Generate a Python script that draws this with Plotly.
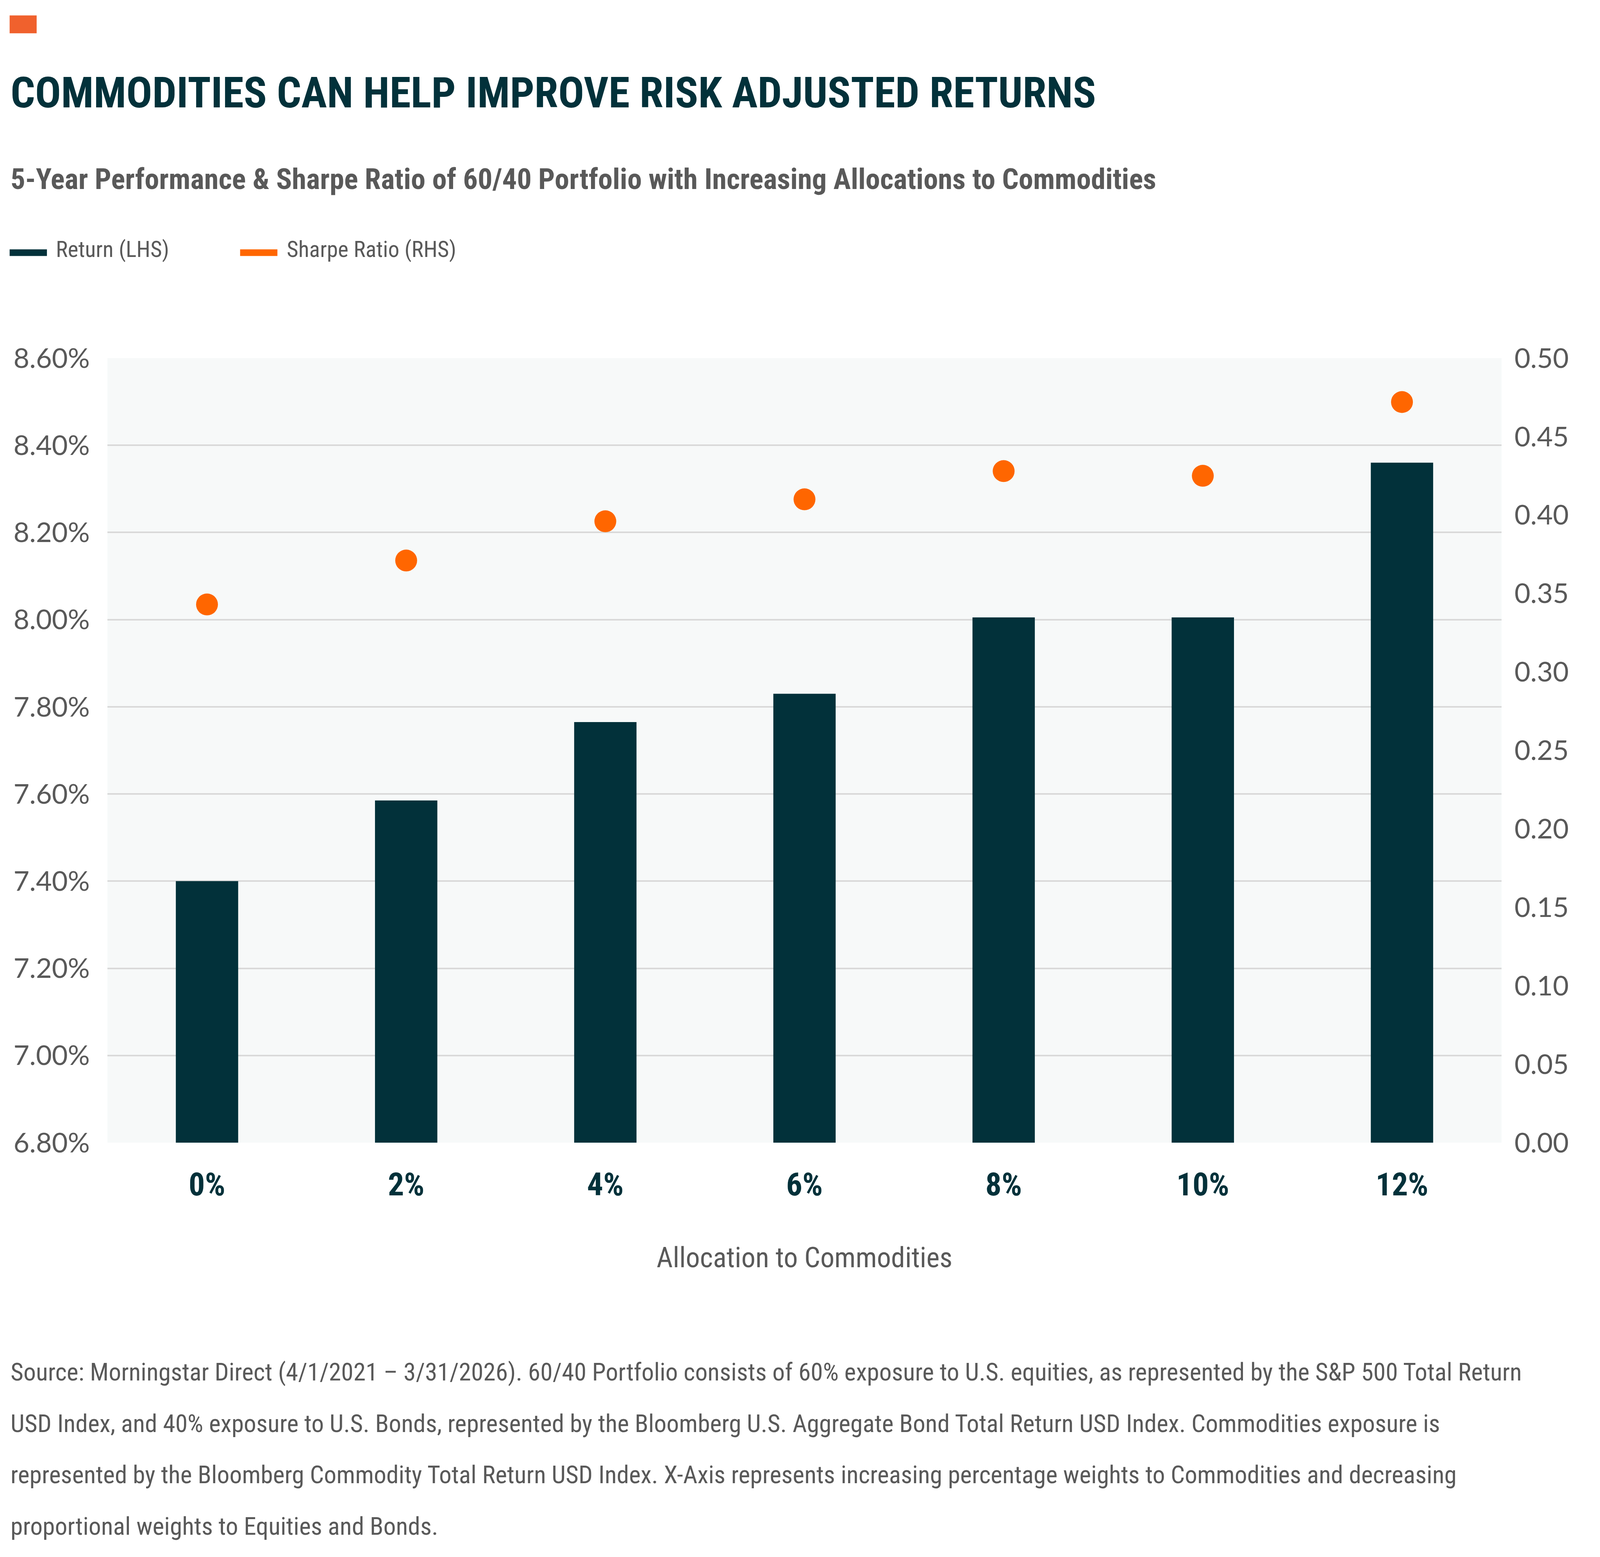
import plotly.graph_objects as go

# --------------------------------------------------------------------------
# Data
# --------------------------------------------------------------------------
allocations = ["0%", "2%", "4%", "6%", "8%", "10%", "12%"]
return_pct = [7.40, 7.585, 7.765, 7.83, 8.005, 8.005, 8.36]
sharpe_ratio = [0.343, 0.371, 0.396, 0.410, 0.428, 0.425, 0.472]

title = "COMMODITIES CAN HELP IMPROVE RISK ADJUSTED RETURNS"
subtitle = ("5-Year Performance &amp; Sharpe Ratio of 60/40 Portfolio with Increasing "
            "Allocations to Commodities")
legend_names = ["Return (LHS)", "Sharpe Ratio (RHS)"]
x_title = "Allocation to Commodities"
footnote_lines = [
    "Source: Morningstar Direct (4/1/2021 – 3/31/2026). 60/40 Portfolio consists of 60% exposure "
    "to U.S. equities, as represented by the S&amp;P 500 Total Return",
    "USD Index, and 40% exposure to U.S. Bonds, represented by the Bloomberg U.S. Aggregate Bond "
    "Total Return USD Index. Commodities exposure is",
    "represented by the Bloomberg Commodity Total Return USD Index. X-Axis represents increasing "
    "percentage weights to Commodities and decreasing",
    "proportional weights to Equities and Bonds.",
]

# --------------------------------------------------------------------------
# Layout: positions measured on the 6667x3987 reference, mapped onto the
# browser page (4096 wide, 8px body margin) axis by axis.
# --------------------------------------------------------------------------
W, H = 6667, 3987
FW, FH = 4080, 3971
SX, SY = FW / W, FH / H
L, R, T, B = 437, 399, 913, 1057
TEAL = "#02313A"
ORANGE = "#FF6600"
ACCENT = "#F0612D"
GREY = "#595959"
NARROW = "Roboto Condensed, DejaVu Sans Condensed, Roboto, sans-serif"
WIDE = "Lato, Noto Sans, sans-serif"


def fs(v):
    """Font / horizontal size in reference pixels -> page pixels."""
    return v * SX


def px(x):
    """Reference column -> paper x."""
    return (x - L) / (W - L - R)


def py(y):
    """Reference row (from top) -> paper y."""
    return (H - B - y) / (H - T - B)


fig = go.Figure()
fig.add_trace(go.Bar(
    x=allocations, y=return_pct, name=legend_names[0],
    marker=dict(color=TEAL, line=dict(width=0)),
    showlegend=False,
))
fig.add_trace(go.Scatter(
    x=allocations, y=sharpe_ratio, name=legend_names[1], yaxis="y2",
    mode="markers", marker=dict(color=ORANGE, size=56, line=dict(width=0)),
    showlegend=False,
))

fig.update_layout(
    width=FW, height=FH,
    margin=dict(l=L * SX, r=R * SX, t=T * SY, b=B * SY),
    paper_bgcolor="white",
    plot_bgcolor="#F7F9F9",
    bargap=0.687,
    xaxis=dict(
        type="category", showgrid=False, zeroline=False, showline=False, ticks="",
        tickfont=dict(family=NARROW, size=fs(134), color=TEAL, weight="bold"),
        ticklabelstandoff=52,
        title=dict(text=x_title, font=dict(family=NARROW, size=fs(118), color=GREY),
                   standoff=114),
    ),
    yaxis=dict(
        range=[6.8, 8.6], dtick=0.2, tickformat=".2f", ticksuffix="%",
        showgrid=True, gridcolor="#D9D9D9", gridwidth=4, zeroline=False, showline=False,
        ticks="", tickfont=dict(family=WIDE, size=fs(115), color=GREY),
        ticklabelstandoff=round(fs(72)),
    ),
    yaxis2=dict(
        overlaying="y", side="right", range=[0, 0.5], dtick=0.05, tickformat=".2f",
        showgrid=False, zeroline=False, showline=False, ticks="",
        tickfont=dict(family=WIDE, size=fs(115), color=GREY),
        ticklabelstandoff=round(fs(52)),
    ),
    shapes=[
        dict(type="rect", xref="paper", yref="paper", x0=px(28), x1=px(141),
             y0=py(78), y1=py(32), fillcolor=ACCENT, line=dict(width=0)),
        dict(type="line", xref="paper", yref="paper", x0=px(28), x1=px(184),
             y0=py(642), y1=py(642), line=dict(color=TEAL, width=17)),
        dict(type="line", xref="paper", yref="paper", x0=px(992), x1=px(1148),
             y0=py(642), y1=py(642), line=dict(color=ORANGE, width=17)),
    ],
)

annotations = [
    dict(text=title, x=px(28), y=py(231), xanchor="left", yanchor="middle",
         font=dict(family=NARROW, size=fs(180), color=TEAL, weight="bold")),
    dict(text=subtitle, x=px(28), y=py(453), xanchor="left", yanchor="middle",
         font=dict(family=NARROW, size=fs(122), color=GREY, weight="bold")),
    dict(text=legend_names[0], x=px(218), y=py(633), xanchor="left", yanchor="middle",
         font=dict(family=NARROW, size=fs(94), color=GREY)),
    dict(text=legend_names[1], x=px(1183), y=py(633), xanchor="left", yanchor="middle",
         font=dict(family=NARROW, size=fs(94), color=GREY)),
]
for i, line in enumerate(footnote_lines):
    annotations.append(dict(
        text=line, x=px(28), y=py(3520 + 132 * i), xanchor="left", yanchor="middle",
        font=dict(family=NARROW, size=fs(104), color=GREY)))
for a in annotations:
    a.update(xref="paper", yref="paper", showarrow=False)
fig.update_layout(annotations=annotations)

fig.write_html("out.html")
